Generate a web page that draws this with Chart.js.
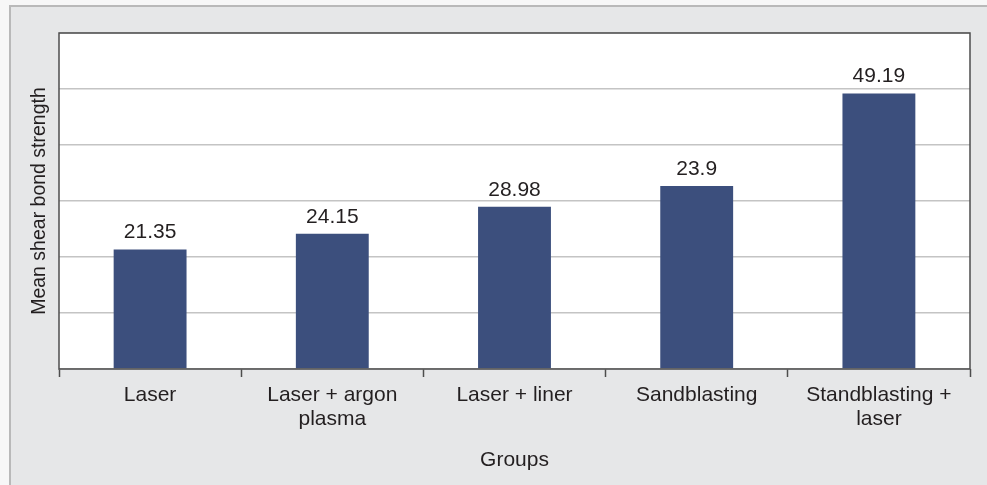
<!DOCTYPE html>
<html>
<head>
<meta charset="utf-8">
<script src="https://cdn.jsdelivr.net/npm/chart.js@4/dist/chart.umd.min.js"></script>
<style>
    body { margin: 0; background: #f7f7f7; }
    .panel {
        position: absolute; left: 9px; top: 5px;
        width: 976px; height: 478px;
        background: #e6e7e8;
        border-top: 2px solid #b9b9b9;
        border-left: 2px solid #b9b9b9;
    }
</style>
</head>
<body>
<div class="panel"><canvas id="chart" width="976" height="478"></canvas></div>
<script>
// data
const groups = [['Laser'], ['Laser + argon', 'plasma'], ['Laser + liner'], ['Sandblasting'], ['Standblasting +', 'laser']];
const meanStrength = [21.35, 24.15, 28.98, 32.7, 49.19];   // bar heights as drawn
const valueLabels = ['21.35', '24.15', '28.98', '23.9', '49.19']; // printed labels
const yTicks = [0, 10, 20, 30, 40, 50, 60];

const textColor = '#231f20';
const fontFamily = '"Liberation Sans", Arial, sans-serif';

// white plot area + frame + value labels
const plotDecor = {
    id: 'plotDecor',
    beforeDraw(chart) {
        const { ctx, chartArea: a } = chart;
        ctx.save();
        ctx.fillStyle = '#ffffff';
        ctx.fillRect(a.left, a.top, a.right - a.left, a.bottom - a.top);
        ctx.restore();
    },
    afterDatasetsDraw(chart) {
        const { ctx, chartArea: a } = chart;
        ctx.save();
        ctx.strokeStyle = '#4d4d4d';
        ctx.lineWidth = 1.5;
        ctx.strokeRect(a.left, a.top, a.right - a.left, a.bottom - a.top);

        ctx.fillStyle = textColor;
        ctx.font = '21px ' + fontFamily;
        ctx.textAlign = 'center';
        ctx.textBaseline = 'middle';
        chart.getDatasetMeta(0).data.forEach((bar, i) => {
            ctx.fillText(valueLabels[i], bar.x, bar.y - 17);
        });
        ctx.restore();
    }
};

new Chart(document.getElementById('chart'), {
    type: 'bar',
    data: {
        labels: groups,
        datasets: [{
            data: meanStrength,
            backgroundColor: '#3c4f7d',
            borderWidth: 0,
            barPercentage: 0.5,
            categoryPercentage: 0.8
        }]
    },
    options: {
        responsive: false,
        animation: false,
        layout: { padding: { left: 17, top: 26, right: 17, bottom: 12 } },
        plugins: {
            legend: { display: false },
            tooltip: { enabled: false }
        },
        scales: {
            x: {
                afterFit: scale => { scale.height = 104; },
                grid: {
                    offset: true,
                    drawOnChartArea: false,
                    drawTicks: true,
                    tickLength: 8,
                    tickWidth: 1.5,
                    tickColor: '#4d4d4d'
                },
                border: { display: false },
                ticks: {
                    color: textColor,
                    padding: 6,
                    maxRotation: 0,
                    font: { family: fontFamily, size: 21, lineHeight: 1.15 }
                },
                title: {
                    display: true,
                    text: 'Groups',
                    color: textColor,
                    padding: 0,
                    font: { family: fontFamily, size: 21 }
                }
            },
            y: {
                min: yTicks[0],
                max: yTicks[yTicks.length - 1],
                afterFit: scale => { scale.width = 31; },
                afterBuildTicks: scale => { scale.ticks = yTicks.map(v => ({ value: v })); },
                grid: {
                    color: '#c4c4c4',
                    lineWidth: 1.5,
                    drawTicks: false
                },
                border: { display: false },
                ticks: { display: false },
                title: {
                    display: true,
                    text: 'Mean shear bond strength',
                    color: textColor,
                    padding: 0,
                    font: { family: fontFamily, size: 19.5 }
                }
            }
        }
    },
    plugins: [plotDecor]
});
</script>
</body>
</html>
